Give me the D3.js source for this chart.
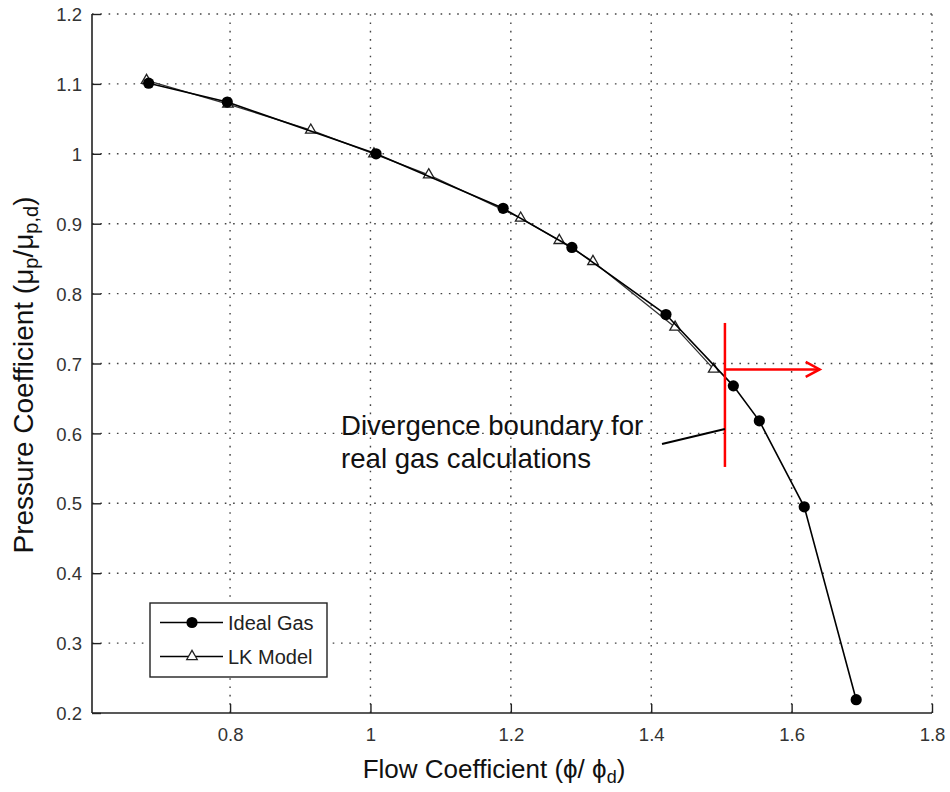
<!DOCTYPE html>
<html>
<head>
<meta charset="utf-8">
<script src="https://cdn.jsdelivr.net/npm/d3@7"></script>
<style>
  body { margin: 0; background: #fff; }
  svg { font-family: "Liberation Sans", Arial, sans-serif; }
</style>
</head>
<body>
<div id="chart"></div>
<script>
// data
var idealX = [0.684, 0.796, 1.008, 1.189, 1.287, 1.421, 1.517, 1.554, 1.618, 1.692];
var idealY = [1.101, 1.074, 1.000, 0.922, 0.866, 0.770, 0.668, 0.618, 0.495, 0.219];
var lkX = [0.681, 0.797, 0.915, 1.005, 1.083, 1.214, 1.269, 1.317, 1.434, 1.489];
var lkY = [1.105, 1.071, 1.034, 1.000, 0.970, 0.908, 0.876, 0.846, 0.752, 0.692];
var xTicks = [0.8, 1, 1.2, 1.4, 1.6, 1.8];
var yTicks = [0.2, 0.3, 0.4, 0.5, 0.6, 0.7, 0.8, 0.9, 1, 1.1, 1.2];
var boundaryX = 1.505, boundaryY = [0.552, 0.758];
var arrowY = 0.6915, arrowEnd = 1.64;

var width = 950, height = 792;
var m = {left: 92, right: 932, top: 14, bottom: 713};

var x = d3.scaleLinear().domain([0.6033, 1.8]).range([m.left, m.right]);
var y = d3.scaleLinear().domain([0.2, 1.2]).range([m.bottom, m.top]);

var svg = d3.select('#chart').append('svg')
  .attr('width', width).attr('height', height);

// dotted grid
var grid = svg.append('g')
  .attr('stroke', '#444')
  .attr('stroke-width', 1.4)
  .attr('stroke-dasharray', '1.6,6.7');
grid.selectAll('.gx').data(xTicks).enter().append('line')
  .attr('x1', d => x(d)).attr('x2', d => x(d))
  .attr('y1', m.bottom).attr('y2', m.top);
grid.selectAll('.gy').data(yTicks.slice(1)).enter().append('line')
  .attr('y1', d => y(d)).attr('y2', d => y(d))
  .attr('x1', m.left).attr('x2', m.right);

// axes
var fmt = d3.format('~g');
var xAxis = svg.append('g')
  .attr('transform', `translate(0,${m.bottom})`)
  .call(d3.axisBottom(x).tickValues(xTicks).tickSizeInner(-9).tickSizeOuter(0).tickPadding(10).tickFormat(fmt));
var yAxis = svg.append('g')
  .attr('transform', `translate(${m.left},0)`)
  .call(d3.axisLeft(y).tickValues(yTicks).tickSizeInner(-9).tickSizeOuter(0).tickPadding(10).tickFormat(fmt));
[xAxis, yAxis].forEach(a => {
  a.select('.domain').attr('stroke', '#222').attr('stroke-width', 1.6);
  a.selectAll('.tick line').attr('stroke', '#222').attr('stroke-width', 1.4);
  a.selectAll('.tick text').attr('fill', '#333').style('font-size', '18.5px');
});
xAxis.selectAll('.tick text').attr('dy', '0.95em');
yAxis.selectAll('.tick text').attr('dy', '0.36em');
xAxis.select('.domain').attr('d', `M${m.left},0H${m.right}`);
yAxis.select('.domain').attr('d', `M0,${m.bottom}V${m.top}`);

// series
var ideal = idealX.map((v, i) => [v, idealY[i]]);
var lk = lkX.map((v, i) => [v, lkY[i]]);
var line = d3.line().x(d => x(d[0])).y(d => y(d[1]));
var tri = d3.symbol().type(d3.symbolTriangle).size(48);

svg.append('path').datum(lk)
  .attr('fill', 'none').attr('stroke', '#333').attr('stroke-width', 1.3)
  .attr('d', line);
svg.append('g').selectAll('path').data(lk).enter().append('path')
  .attr('d', tri)
  .attr('transform', d => `translate(${x(d[0])},${y(d[1])})`)
  .attr('fill', '#fff').attr('stroke', '#222').attr('stroke-width', 1.3);

svg.append('path').datum(ideal)
  .attr('fill', 'none').attr('stroke', '#000').attr('stroke-width', 1.6)
  .attr('d', line);
svg.append('g').selectAll('circle').data(ideal).enter().append('circle')
  .attr('cx', d => x(d[0])).attr('cy', d => y(d[1]))
  .attr('r', 5.6).attr('fill', '#000');

// legend
var lg = svg.append('g');
lg.append('rect')
  .attr('x', 150).attr('y', 603).attr('width', 177).attr('height', 74)
  .attr('fill', '#fff').attr('stroke', '#222').attr('stroke-width', 1.4);
var entries = [{name: 'Ideal Gas', sym: 'circle', yy: 622.5}, {name: 'LK Model', sym: 'tri', yy: 656.5}];
entries.forEach(e => {
  lg.append('line').attr('x1', 160).attr('x2', 223).attr('y1', e.yy).attr('y2', e.yy)
    .attr('stroke', '#000').attr('stroke-width', 1.4);
  if (e.sym === 'circle') {
    lg.append('circle').attr('cx', 192).attr('cy', e.yy).attr('r', 5.6).attr('fill', '#000');
  } else {
    lg.append('path').attr('d', tri).attr('transform', `translate(192,${e.yy})`)
      .attr('fill', '#fff').attr('stroke', '#222').attr('stroke-width', 1.3);
  }
  lg.append('text').attr('x', 228).attr('y', e.yy).attr('dy', '0.36em')
    .style('font-size', '20px').attr('fill', '#222').text(e.name);
});

// annotation
svg.append('line')
  .attr('x1', x(boundaryX)).attr('x2', x(boundaryX))
  .attr('y1', y(boundaryY[0])).attr('y2', y(boundaryY[1]))
  .attr('stroke', '#f00').attr('stroke-width', 2.5);
svg.append('line')
  .attr('x1', x(boundaryX)).attr('x2', x(arrowEnd))
  .attr('y1', y(arrowY)).attr('y2', y(arrowY))
  .attr('stroke', '#f00').attr('stroke-width', 2.5);
svg.append('path')
  .attr('d', `M${x(arrowEnd) - 14},${y(arrowY) - 7.5}L${x(arrowEnd)},${y(arrowY)}L${x(arrowEnd) - 14},${y(arrowY) + 7.5}`)
  .attr('fill', 'none').attr('stroke', '#f00').attr('stroke-width', 2.5);
svg.append('line')
  .attr('x1', 662).attr('y1', 444).attr('x2', x(boundaryX)).attr('y2', 429)
  .attr('stroke', '#000').attr('stroke-width', 2);
var note = svg.append('text').style('font-size', '27.6px').attr('fill', '#111');
note.append('tspan').attr('x', 341).attr('y', 435).text('Divergence boundary for');
note.append('tspan').attr('x', 341).attr('y', 468).text('real gas calculations');

// axis titles
var xt = svg.append('text').attr('x', 494).attr('y', 778)
  .attr('text-anchor', 'middle').style('font-size', '26px').attr('fill', '#111');
xt.append('tspan').text('Flow Coefficient (ϕ/ ϕ');
xt.append('tspan').attr('baseline-shift', '-25%').style('font-size', '18px').text('d');
xt.append('tspan').text(')');

var yt = svg.append('text')
  .attr('transform', 'translate(33,375) rotate(-90)')
  .attr('text-anchor', 'middle').style('font-size', '28px').attr('fill', '#111');
yt.append('tspan').text('Pressure Coefficient (μ');
yt.append('tspan').attr('baseline-shift', '-25%').style('font-size', '20px').text('p');
yt.append('tspan').text('/μ');
yt.append('tspan').attr('baseline-shift', '-25%').style('font-size', '20px').text('p,d');
yt.append('tspan').text(')');
</script>
</body>
</html>
